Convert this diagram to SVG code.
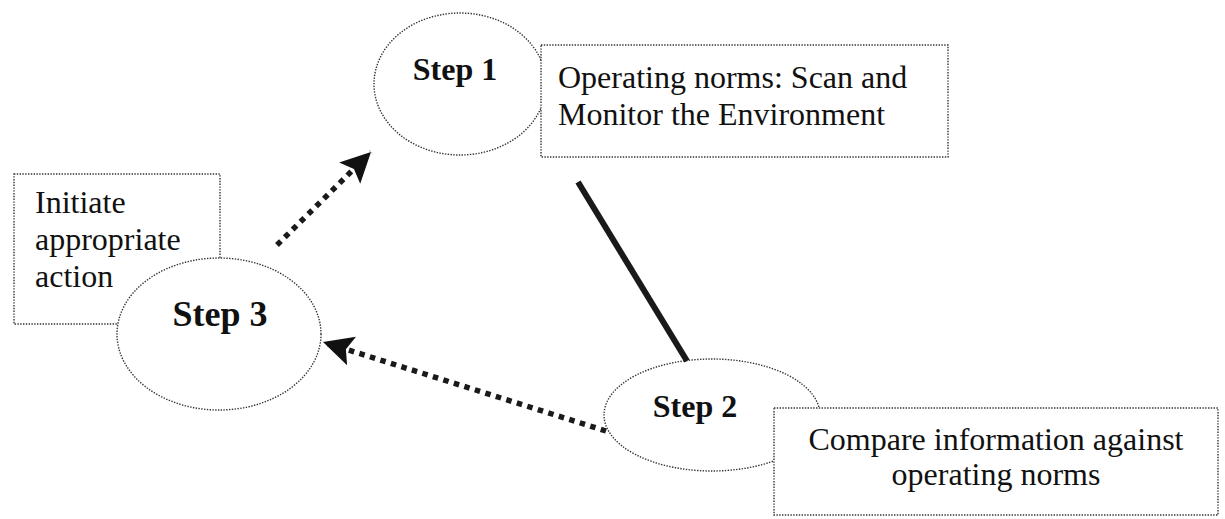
<svg xmlns="http://www.w3.org/2000/svg" width="1225" height="519" viewBox="0 0 1225 519">
<style>
.shape{fill:#fff;stroke:#333;stroke-width:1.4;stroke-dasharray:1.4 1.4}
.txt{font-family:"Liberation Serif","Times New Roman",serif;font-size:32px;fill:#111}
.step{font-family:"Liberation Serif","Times New Roman",serif;font-weight:bold;font-size:32px;fill:#111}
.dotline{fill:none;stroke:#1a1a1a;stroke-width:5.5;stroke-dasharray:5.5 5.5}
.solid{fill:none;stroke:#1a1a1a;stroke-width:6}
</style>
<defs>
<marker id="head" markerUnits="userSpaceOnUse" markerWidth="34" markerHeight="32" refX="30" refY="15" orient="auto">
<path d="M0,0 L30,15 L0,30 L6,15 Z" fill="#111"/>
</marker>
</defs>
<rect width="1225" height="519" fill="#fff"/>
<g id="node-step3-box">
<rect class="shape" x="14" y="174" width="206" height="150"/>
<text class="txt" x="35" y="213">Initiate</text>
<text class="txt" x="35" y="250">appropriate</text>
<text class="txt" x="35" y="287">action</text>
</g>
<g id="node-step3">
<ellipse class="shape" cx="219" cy="334" rx="102" ry="76"/>
<text class="step" x="220" y="326" text-anchor="middle" style="font-size:36px">Step 3</text>
</g>
<g id="node-step1">
<ellipse class="shape" cx="460" cy="84" rx="86" ry="71"/>
<text class="step" x="455" y="80" text-anchor="middle">Step 1</text>
</g>
<g id="node-step1-box">
<rect class="shape" x="541" y="45" width="407" height="112"/>
<text class="txt" x="558" y="88">Operating norms: Scan and</text>
<text class="txt" x="558" y="125">Monitor the Environment</text>
</g>
<g id="node-step2">
<ellipse class="shape" cx="712" cy="415" rx="108" ry="56"/>
<text class="step" x="695" y="417" text-anchor="middle">Step 2</text>
</g>
<g id="node-step2-box">
<rect class="shape" x="774" y="408" width="444" height="107"/>
<text class="txt" x="996" y="450" text-anchor="middle">Compare information against</text>
<text class="txt" x="996" y="485" text-anchor="middle">operating norms</text>
</g>
<g id="connectors">
<line class="dotline" x1="277" y1="245" x2="371" y2="152" marker-end="url(#head)"/>
<line class="solid" x1="578" y1="182" x2="687" y2="361"/>
<line class="dotline" x1="606" y1="431" x2="323" y2="342" marker-end="url(#head)"/>
</g>
</svg>
